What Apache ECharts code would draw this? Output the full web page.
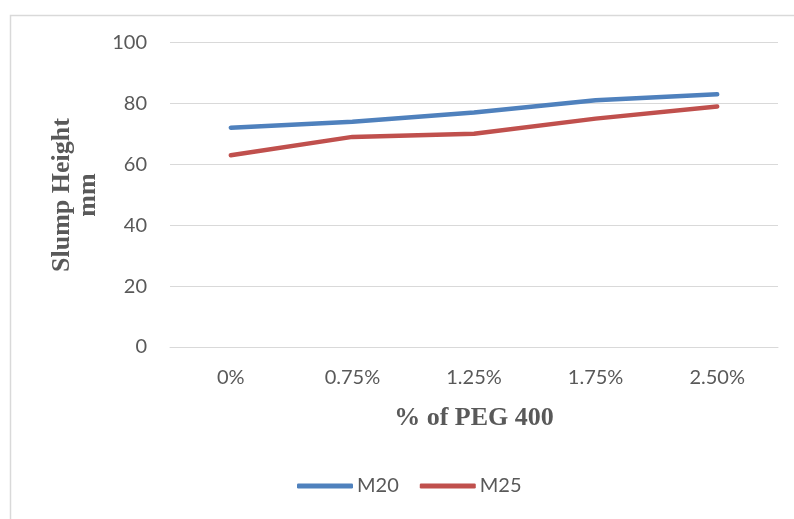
<!DOCTYPE html>
<html>
<head>
<meta charset="utf-8">
<script src="https://cdn.jsdelivr.net/npm/echarts@6/dist/echarts.min.js"></script>
<style>html,body{margin:0;padding:0;background:#fff;}#c{width:794px;height:519px;}</style>
</head>
<body>
<div id="c"></div>
<script>
var categories = ['0%', '0.75%', '1.25%', '1.75%', '2.50%'];
var m20 = [72, 74, 77, 81, 83];
var m25 = [63, 69, 70, 75, 79];
var yTicks = { min: 0, max: 100, interval: 20 };
var yTitle = 'Slump Height\nmm';
var xTitle = '% of PEG 400';

var chart = echarts.init(document.getElementById('c'), null, { renderer: 'canvas' });
chart.setOption({
  animation: false,
  backgroundColor: '#ffffff',
  graphic: [{
    type: 'rect', left: 8, top: 13, silent: true,
    shape: { width: 800, height: 520 },
    style: { fill: 'none', stroke: '#d9d9d9', lineWidth: 1.5 }
  }, {
    type: 'text', x: 75, y: 195, rotation: Math.PI / 2, silent: true,
    style: {
      text: yTitle, x: 0, y: 0, align: 'center', verticalAlign: 'middle',
      font: 'bold 26px "Liberation Serif"', lineHeight: 26, fill: '#595959'
    }
  }],
  grid: { left: 170, right: 16, top: 42.5, bottom: 172 },
  legend: {
    bottom: 18, left: 292,
    icon: 'roundRect', itemWidth: 56, itemHeight: 5, itemGap: 21,
    textStyle: { fontFamily: 'Lato', fontSize: 20, color: '#595959', padding: [0, 0, 0, -1] },
    data: ['M20', 'M25']
  },
  xAxis: {
    type: 'category', data: categories, boundaryGap: true,
    name: xTitle, nameLocation: 'middle', nameGap: 58,
    nameTextStyle: { fontFamily: 'Liberation Serif', fontWeight: 'bold', fontSize: 26, color: '#595959' },
    axisLine: { lineStyle: { color: '#d9d9d9', width: 1 } },
    axisTick: { show: false },
    axisLabel: { fontFamily: 'Lato', fontSize: 20, color: '#595959', margin: 21 }
  },
  yAxis: {
    type: 'value', min: yTicks.min, max: yTicks.max, interval: yTicks.interval,
    axisLine: { show: false }, axisTick: { show: false },
    axisLabel: { fontFamily: 'Lato', fontSize: 20, color: '#595959', margin: 23 },
    splitLine: { lineStyle: { color: '#d9d9d9', width: 1 } }
  },
  series: [
    { name: 'M20', type: 'line', data: m20, showSymbol: false, symbol: 'none',
      color: '#4f81bd', lineStyle: { width: 4.5, color: '#4f81bd', cap: 'round', join: 'round' } },
    { name: 'M25', type: 'line', data: m25, showSymbol: false, symbol: 'none',
      color: '#c0504d', lineStyle: { width: 4.5, color: '#c0504d', cap: 'round', join: 'round' } }
  ]
});
</script>
</body>
</html>
